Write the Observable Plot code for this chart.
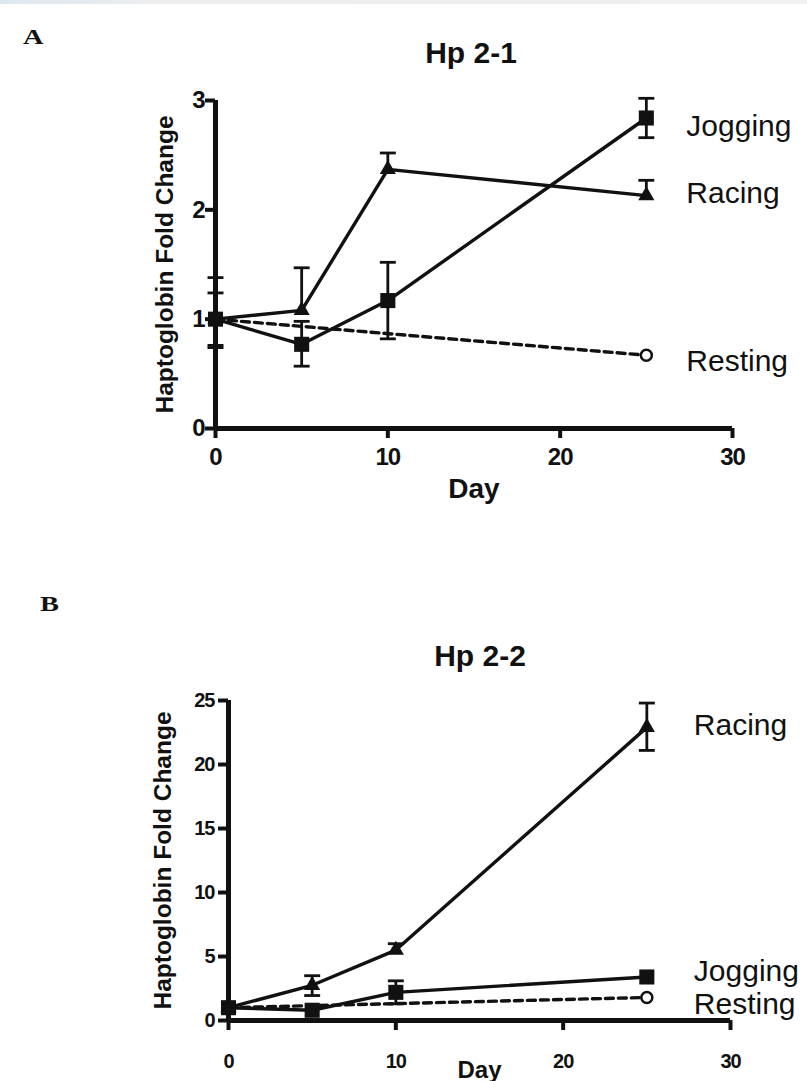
<!DOCTYPE html>
<html><head><meta charset="utf-8">
<script src="https://cdn.jsdelivr.net/npm/d3@7"></script>
<script src="https://cdn.jsdelivr.net/npm/@observablehq/plot@0.6"></script>
<style>
html,body{margin:0;padding:0;width:807px;height:1081px;overflow:hidden;background:#fff;}
#page{position:relative;width:807px;height:1081px;font-family:"Liberation Sans",Arial,sans-serif;}
.abs{position:absolute;line-height:1;white-space:nowrap;color:#111;}
.panel{position:absolute;left:0;}
.topbar{position:absolute;left:0;top:0;width:807px;height:4px;background:linear-gradient(90deg,#dfe7ee 0,#e4eaf0 90px,#eceef0 140px,#eef0f2 100%);}
.letter{font-family:"Liberation Serif","DejaVu Serif",serif;font-weight:bold;font-size:21px;transform:scaleX(1.35);transform-origin:left top;}
.title{font-weight:bold;font-size:30px;transform:translateX(-50%);}
g[aria-label="x-axis tick label"] text, g[aria-label="y-axis tick label"] text{letter-spacing:-1px;}
</style></head>
<body><div id="page">
<div class="topbar"></div>
<div class="abs letter" style="left:23px;top:27px;">A</div>
<div class="abs title" style="left:471px;top:38px;">Hp 2-1</div>
<div class="abs letter" style="left:40px;top:594px;">B</div>
<div class="abs title" style="left:480px;top:641px;">Hp 2-2</div>
<div id="pa" class="panel" style="top:80px;"></div>
<div id="pb" class="panel" style="top:680px;"></div>
</div>
<script>
// ---- data ----
const days = [0, 5, 10, 25];
const restDays = [0, 25];
const xTicks = [0, 10, 20, 30];
const yTicksA = [0, 1, 2, 3];
const yTicksB = [0, 5, 10, 15, 20, 25];
const seriesNames = ["Jogging", "Racing", "Resting"];

// Panel A (Hp 2-1)
const joggingA    = [1.0, 0.77, 1.17, 2.84];
const joggingA_lo = [0.74, 0.57, 0.82, 2.66];
const joggingA_hi = [1.38, 0.98, 1.52, 3.02];
const racingA     = [1.0, 1.08, 2.37, 2.13];
const racingA_lo  = [0.76, null, null, null];
const racingA_hi  = [1.24, 1.47, 2.52, 2.27];
const restingA    = [1.0, 0.67];

// Panel B (Hp 2-2)
const racingB     = [1.0, 2.75, 5.5, 22.9];
const racingB_lo  = [null, 1.95, null, 21.1];
const racingB_hi  = [null, 3.5, 6.0, 24.8];
const joggingB    = [1.0, 0.8, 2.2, 3.4];
const joggingB_lo = [null, null, 1.3, null];
const joggingB_hi = [null, null, 3.1, null];
const restingB    = [1.0, 1.8];

// ---- helpers ----
const pts = (xs, ys) => xs.map((d, i) => ({day: d, v: ys[i]}));
function errRows(xs, v, lo, hi) {
  const out = [];
  xs.forEach((d, i) => {
    if (lo[i] == null && hi[i] == null) return;
    out.push({day: d, lo: lo[i] ?? v[i], hi: hi[i] ?? v[i]});
  });
  return out;
}
function capRows(xs, lo, hi) {
  const out = [];
  xs.forEach((d, i) => {
    if (lo[i] != null) out.push({day: d, v: lo[i]});
    if (hi[i] != null) out.push({day: d, v: hi[i]});
  });
  return out;
}
const capSymbol = {
  draw(ctx, size) { const w = Math.sqrt(size) / 2; ctx.moveTo(-w, 0); ctx.lineTo(w, 0); }
};
const FONT = "Liberation Sans, Arial, sans-serif";

function panel(cfg) {
  const jog = pts(days, cfg.jog), rac = pts(days, cfg.rac), res = pts(restDays, cfg.res);
  const errs = [...errRows(days, cfg.jog, cfg.jogLo, cfg.jogHi), ...errRows(days, cfg.rac, cfg.racLo, cfg.racHi)];
  const caps = [...capRows(days, cfg.jogLo, cfg.jogHi), ...capRows(days, cfg.racLo, cfg.racHi)];
  const last = {Jogging: jog[jog.length - 1], Racing: rac[rac.length - 1], Resting: res[res.length - 1]};
  const labelMarks = seriesNames.map(name => Plot.text([last[name]], {
    x: "day", y: "v", text: () => name, dx: cfg.labelDx, dy: cfg.labelDy[name],
    textAnchor: "start", fontSize: 30, fill: "#111"
  }));
  return Plot.plot({
    width: 807, height: cfg.height,
    marginTop: cfg.marginTop, marginBottom: cfg.marginBottom,
    marginLeft: cfg.marginLeft, marginRight: cfg.marginRight,
    x: {domain: [0, 30]}, y: {domain: cfg.yDomain},
    style: {fontFamily: FONT, color: "#111", overflow: "visible", background: "transparent"},
    marks: [
      Plot.ruleX([0], {strokeWidth: 5, stroke: "#111"}),
      Plot.ruleY([0], {strokeWidth: 5, stroke: "#111"}),
      Plot.axisX({ticks: xTicks, tickFormat: "d", tickSize: 10, tickPadding: cfg.xTickPad, strokeWidth: 4,
        strokeOpacity: 1, fontSize: cfg.tickFont, fontWeight: "bold", label: null}),
      Plot.axisY({ticks: cfg.yTicks, tickFormat: "d", tickSize: 10, tickPadding: cfg.yTickPad, strokeWidth: 4,
        strokeOpacity: 1, fontSize: cfg.tickFont, fontWeight: "bold", label: null}),
      Plot.text(["Day"], {frameAnchor: "bottom", textAnchor: "middle", lineAnchor: "top",
        dy: cfg.dayDy, fontSize: cfg.dayFont, fontWeight: "bold"}),
      Plot.text(["Haptoglobin Fold Change"], {frameAnchor: "left", textAnchor: "middle",
        rotate: -90, dx: cfg.yLabelDx, fontSize: 24.5, fontWeight: "bold"}),
      Plot.line(res, {x: "day", y: "v", strokeWidth: 3.4, strokeDasharray: "8,5", stroke: "#111"}),
      Plot.line(jog, {x: "day", y: "v", strokeWidth: 3.4, stroke: "#111"}),
      Plot.line(rac, {x: "day", y: "v", strokeWidth: 3.4, stroke: "#111"}),
      Plot.ruleX(errs, {x: "day", y1: "lo", y2: "hi", strokeWidth: 2.8, stroke: "#111"}),
      Plot.dot(caps, {x: "day", y: "v", symbol: capSymbol, r: 9, stroke: "#111", strokeWidth: 2.8}),
      Plot.dot(res, {x: "day", y: "v", symbol: "circle", r: 5.5, fill: "white", stroke: "#111", strokeWidth: 2.5}),
      Plot.dot(jog, {x: "day", y: "v", symbol: "square", r: 8.5, fill: "#111", stroke: "none"}),
      Plot.dot(rac, {x: "day", y: "v", symbol: "triangle", r: 6, fill: "#111", stroke: "none"}),
      ...labelMarks
    ]
  });
}

document.getElementById("pa").appendChild(panel({
  height: 440, marginTop: 20, marginBottom: 92, marginLeft: 215, marginRight: 75,
  yDomain: [0, 3], yTicks: yTicksA, tickFont: 24, xTickPad: 9, yTickPad: 1,
  dayDy: 50, dayFont: 28, yLabelDx: -50, labelDx: 40,
  labelDy: {Jogging: 8, Racing: -2, Resting: 6},
  jog: joggingA, jogLo: joggingA_lo, jogHi: joggingA_hi,
  rac: racingA, racLo: racingA_lo, racHi: racingA_hi, res: restingA
}));

document.getElementById("pb").appendChild(panel({
  height: 401, marginTop: 20, marginBottom: 61, marginLeft: 228, marginRight: 77,
  yDomain: [0, 25], yTicks: yTicksB, tickFont: 20, xTickPad: 23, yTickPad: 4,
  dayDy: 40, dayFont: 24, yLabelDx: -65, labelDx: 47,
  labelDy: {Jogging: -6, Racing: -2, Resting: 7},
  jog: joggingB, jogLo: joggingB_lo, jogHi: joggingB_hi,
  rac: racingB, racLo: racingB_lo, racHi: racingB_hi, res: restingB
}));
</script>
</body></html>
